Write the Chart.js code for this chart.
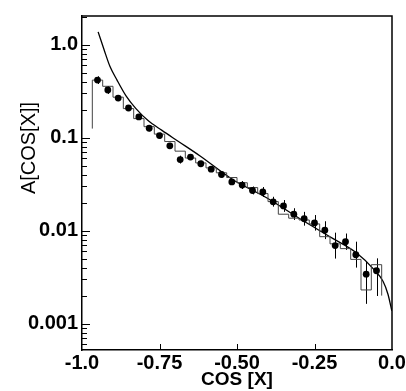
<!DOCTYPE html>
<html>
<head>
<meta charset="utf-8">
<script src="https://cdn.jsdelivr.net/npm/chart.js@4.4.0/dist/chart.umd.min.js"></script>
<style>
  html, body { margin: 0; padding: 0; background: #fff; }
  #wrap { width: 406px; height: 391px; }
</style>
</head>
<body>
<div id="wrap"><canvas id="mycanvas"></canvas></div>
<script>
// measured data points (bin centres) with error bars
var cosCenters = [-0.95, -0.9167, -0.8833, -0.85, -0.8167, -0.7833, -0.75, -0.7167, -0.6833, -0.65,
                  -0.6167, -0.5833, -0.55, -0.5167, -0.4833, -0.45, -0.4167, -0.3833, -0.35, -0.3167,
                  -0.2833, -0.25, -0.2167, -0.1833, -0.15, -0.1167, -0.0833, -0.05];
var measured = [0.415, 0.325, 0.266, 0.208, 0.167, 0.126, 0.105, 0.0815, 0.058, 0.0618,
                0.0523, 0.0458, 0.0401, 0.0334, 0.0309, 0.027, 0.026, 0.0204, 0.0184, 0.015,
                0.0134, 0.0121, 0.0101, 0.0069, 0.0076, 0.0055, 0.0034, 0.0037];
var errLow  = [0.377, 0.295, 0.247, 0.193, 0.155, 0.117, 0.0976, 0.0757, 0.0526, 0.0574,
               0.0486, 0.0426, 0.0373, 0.0310, 0.0280, 0.0245, 0.0230, 0.0181, 0.0159, 0.0130,
               0.0113, 0.0100, 0.0081, 0.0050, 0.0062, 0.0040, 0.00163, 0.00198];
var errHigh = [0.457, 0.358, 0.286, 0.224, 0.180, 0.136, 0.113, 0.0877, 0.0639, 0.0665,
               0.0563, 0.0493, 0.0431, 0.0359, 0.0341, 0.0298, 0.0294, 0.0231, 0.0213, 0.0174,
               0.0159, 0.0147, 0.0126, 0.0095, 0.0093, 0.0076, 0.00465, 0.00503];

// histogram (monte carlo), left bin edges + levels
var histEdges = [-0.9667, -0.9667, -0.9333, -0.9, -0.8667, -0.8333, -0.8, -0.7667, -0.7333, -0.7,
                 -0.6667, -0.6333, -0.6, -0.5667, -0.5333, -0.5, -0.4667, -0.4333, -0.4, -0.3667,
                 -0.3333, -0.3, -0.2667, -0.2333, -0.2, -0.1667, -0.1333, -0.1, -0.0667, -0.0333];
var histLevels = [0.125, 0.415, 0.356, 0.272, 0.205, 0.160, 0.131, 0.109, 0.0907, 0.0715,
                  0.0603, 0.0534, 0.0472, 0.0418, 0.0372, 0.0327, 0.029, 0.025, 0.0205, 0.015,
                  0.0136, 0.013, 0.0118, 0.0086, 0.0072, 0.0064, 0.0049, 0.0023, 0.0043, 0.002];

// theory curve
var curveX = [-0.948, -0.929, -0.910, -0.887, -0.858, -0.826, -0.787, -0.742, -0.690, -0.619,
              -0.513, -0.406, -0.297, -0.190, -0.113, -0.061, -0.029, -0.013, -0.0005];
var curveY = [1.37, 0.885, 0.585, 0.415, 0.281, 0.205, 0.1525, 0.1195, 0.0914, 0.0634,
              0.0352, 0.0227, 0.0134, 0.0082, 0.0057, 0.0039, 0.00285, 0.00207, 0.00137];

var xTickValues = [-1, -0.75, -0.5, -0.25, 0];
var xTickLabels = ['-1.0', '-0.75', '-0.50', '-0.25', '0.0'];
var yTickValues = [0.001, 0.01, 0.1, 1];
var yTickLabels = ['0.001', '0.01', '0.1', '1.0'];

var FONT = "'Liberation Sans', Arial, Helvetica, sans-serif";

function pts(xs, ys) {
  var out = [];
  for (var i in xs) out.push({x: xs[i], y: ys[i]});
  return out;
}

function findLabel(v, vals, labels) {
  for (var i = 0; i < vals.length; i++) {
    if (Math.abs(v - vals[i]) < Math.abs(vals[i]) * 1e-6 + 1e-9) return labels[i];
  }
  return '';
}

// error bars, frame and inward ticks
var extras = {
  id: 'extras',
  beforeDatasetsDraw: function(chart) {
    var ctx = chart.ctx, xs = chart.scales.x, ys = chart.scales.y;
    ctx.save();
    ctx.strokeStyle = '#000';
    ctx.lineWidth = 1;
    for (var i = 0; i < cosCenters.length; i++) {
      var px = Math.round(xs.getPixelForValue(cosCenters[i])) + 0.5;
      ctx.beginPath();
      ctx.moveTo(px, ys.getPixelForValue(errLow[i]));
      ctx.lineTo(px, ys.getPixelForValue(errHigh[i]));
      ctx.stroke();
    }
    ctx.restore();
  },
  afterDraw: function(chart) {
    var ctx = chart.ctx, a = chart.chartArea, xs = chart.scales.x, ys = chart.scales.y;
    ctx.save();
    ctx.strokeStyle = '#000';
    ctx.lineWidth = 1.5;
    ctx.beginPath();
    ctx.moveTo(a.left, a.top);
    ctx.lineTo(a.right, a.top);
    ctx.lineTo(a.right, a.bottom);
    ctx.stroke();

    ctx.lineWidth = 1;
    // y ticks, major and minor, pointing inward
    for (var e = -4; e <= 0; e++) {
      for (var m = 1; m <= 9; m++) {
        var v = m * Math.pow(10, e);
        if (v < ys.min || v > ys.max) continue;
        var py = Math.round(ys.getPixelForValue(v)) + 0.5;
        ctx.beginPath();
        ctx.moveTo(a.left - 1, py);
        ctx.lineTo(a.left + (m === 1 ? 8 : 5), py);
        ctx.stroke();
      }
    }
    // x ticks
    for (var j = 1; j < xTickValues.length - 1; j++) {
      var qx = Math.round(xs.getPixelForValue(xTickValues[j])) + 0.5;
      ctx.beginPath();
      ctx.moveTo(qx, a.bottom);
      ctx.lineTo(qx, a.bottom - 6);
      ctx.stroke();
    }

    // y axis title
    ctx.fillStyle = '#000';
    ctx.font = '20px ' + FONT;
    ctx.textAlign = 'center';
    ctx.textBaseline = 'middle';
    ctx.translate(29, 148);
    ctx.rotate(-Math.PI / 2);
    ctx.fillText('A[COS[X]]', 0, 0);
    ctx.restore();
  }
};

var ctx = document.getElementById('mycanvas');

var chart = new Chart(ctx, {
  type: 'scatter',
  data: {
    datasets: [
      {
        label: 'data',
        data: pts(cosCenters, measured),
        backgroundColor: '#000',
        borderColor: '#000',
        pointRadius: 3.4,
        pointBorderWidth: 0,
        order: 1
      },
      {
        label: 'histogram',
        type: 'line',
        data: pts(histEdges, histLevels),
        stepped: 'before',
        borderColor: '#444',
        borderWidth: 1,
        pointRadius: 0,
        fill: false,
        order: 2
      },
      {
        label: 'theory',
        type: 'line',
        data: pts(curveX, curveY),
        cubicInterpolationMode: 'monotone',
        borderColor: '#000',
        borderWidth: 1.3,
        pointRadius: 0,
        fill: false,
        order: 3
      }
    ]
  },
  options: {
    responsive: true,
    maintainAspectRatio: false,
    animation: { duration: 0 },
    events: [],
    layout: { padding: { top: 11, right: 14, left: 0, bottom: 0 } },
    plugins: {
      legend: { display: false },
      tooltip: { enabled: false }
    },
    scales: {
      x: {
        type: 'linear',
        min: -1,
        max: 0,
        afterBuildTicks: function(scale) {
          scale.ticks = xTickValues.map(function(v) { return {value: v}; });
        },
        afterFit: function(scale) {
          scale.height = 41;
          scale.paddingLeft = 0;
          scale.paddingRight = 0;
        },
        ticks: {
          autoSkip: false,
          maxRotation: 0,
          padding: 1,
          color: '#000',
          font: { family: FONT, size: 20, weight: 'bold' },
          callback: function(v) { return findLabel(v, xTickValues, xTickLabels); }
        },
        grid: { display: true, drawOnChartArea: false, drawTicks: false },
        border: { display: true, color: '#000', width: 1.5 },
        title: {
          display: true,
          text: 'COS [X]',
          color: '#000',
          padding: { top: 0, bottom: 0 },
          font: { family: FONT, size: 19, weight: 'bold' }
        }
      },
      y: {
        type: 'logarithmic',
        min: 0.00052,
        max: 2.03,
        afterFit: function(scale) {
          scale.width = 82;
        },
        ticks: {
          autoSkip: false,
          padding: 4,
          color: '#000',
          font: { family: FONT, size: 20, weight: 'bold' },
          callback: function(v) { return findLabel(v, yTickValues, yTickLabels); }
        },
        grid: { display: true, drawOnChartArea: false, drawTicks: false },
        border: { display: true, color: '#000', width: 1.5 }
      }
    }
  },
  plugins: [extras]
});
</script>
</body>
</html>
